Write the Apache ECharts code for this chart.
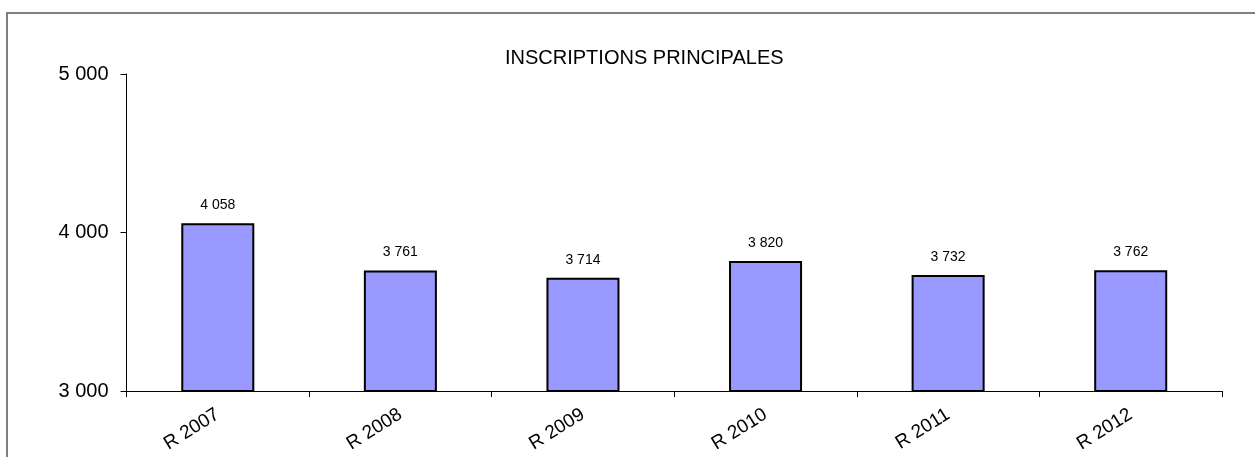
<!DOCTYPE html>
<html>
<head>
<meta charset="utf-8">
<script src="https://cdn.jsdelivr.net/npm/echarts@6/dist/echarts.min.js"></script>
<style>
  html, body { margin: 0; padding: 0; background: #fff; }
  #chart { width: 1255px; height: 457px; }
</style>
</head>
<body>
<div id="chart"></div>
<script>
// Main registrations per year
const categories = ['R 2007', 'R 2008', 'R 2009', 'R 2010', 'R 2011', 'R 2012'];
const inscriptions = [4058, 3761, 3714, 3820, 3732, 3762];
const yTicks = { min: 3000, max: 5000, interval: 1000 };
const titleText = 'INSCRIPTIONS PRINCIPALES';

// French-style thousands separator: 4058 -> "4 058"
const fmt = v => String(v).replace(/\B(?=(\d{3})+(?!\d))/g, ' ');
const FONT = '"Liberation Sans", Arial, sans-serif';

const chart = echarts.init(document.getElementById('chart'), null, { renderer: 'canvas' });
chart.setOption({
  backgroundColor: '#ffffff',
  animation: false,
  title: {
    text: titleText,
    left: 500,
    top: 43,
    textStyle: { fontFamily: FONT, fontSize: 20, fontWeight: 'normal', color: '#000' }
  },
  graphic: [{
    type: 'polyline',
    shape: { points: [[7, 457], [7, 13], [1255, 13]] },
    style: { stroke: '#7f7f7f', lineWidth: 2, fill: null }
  }],
  grid: { left: 126.5, right: 33, top: 74, bottom: 66 },
  xAxis: {
    type: 'category',
    data: categories,
    axisLine: { lineStyle: { color: '#000', width: 1 } },
    axisTick: { show: true, alignWithLabel: false, length: 6, lineStyle: { color: '#000' } },
    axisLabel: { rotate: 32, margin: 22, fontFamily: FONT, fontSize: 19, color: '#000' },
    splitLine: { show: false }
  },
  yAxis: {
    type: 'value',
    min: yTicks.min,
    max: yTicks.max,
    interval: yTicks.interval,
    axisLine: { show: true, lineStyle: { color: '#000', width: 1 } },
    axisTick: { show: true, length: 6, lineStyle: { color: '#000' } },
    axisLabel: { margin: 18, fontFamily: FONT, fontSize: 20, color: '#000', formatter: fmt },
    splitLine: { show: false }
  },
  series: [{
    type: 'bar',
    data: inscriptions,
    barWidth: '40%',
    itemStyle: { color: '#9999ff', borderColor: '#000', borderWidth: 2 },
    label: {
      show: true,
      position: 'top',
      distance: 11,
      fontFamily: FONT,
      fontSize: 14,
      color: '#000',
      formatter: p => fmt(p.value)
    }
  }]
});
</script>
</body>
</html>
